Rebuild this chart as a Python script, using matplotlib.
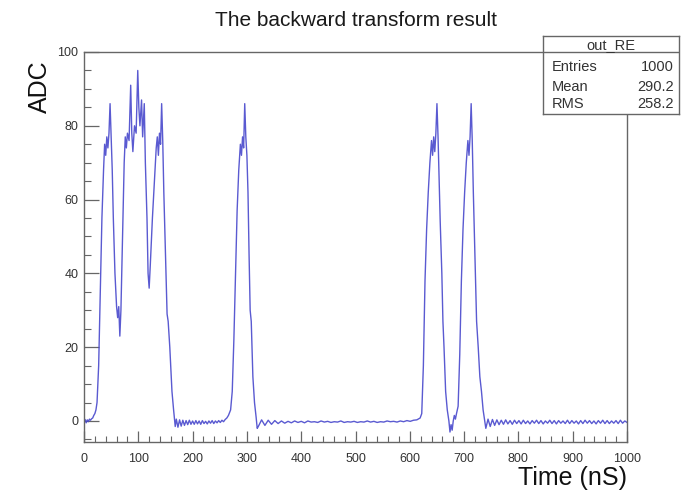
import numpy as np
import matplotlib
matplotlib.use("Agg")
import matplotlib.pyplot as plt
from matplotlib.ticker import MultipleLocator

plt.rcParams['font.family'] = ['Liberation Sans', 'DejaVu Sans']

# pedestal before the first pulse
t_start = [0, 2, 4, 6, 8, 10, 12, 14, 16, 18, 20]
adc_start = [-0.3, 0.4, -0.5, 0.3, -0.2, 0.5, 0.2, 0.6, 0.8, 1.5, 2.0]

# first cluster of overlapping pulses (20 - 168 ns)
t_cluster = [22, 24, 27, 30, 33, 36, 38, 40, 42, 44, 46, 48, 50, 52, 54, 57, 60,
             62, 64, 66, 68, 71, 74, 76, 78, 80, 83, 86, 88, 90, 93, 96, 99, 101,
             103, 106, 108, 111, 113, 116, 118, 120, 122, 126, 130, 133, 135, 137,
             139, 141, 143, 145, 147, 150, 153, 155, 158, 162, 165, 168]
adc_cluster = [3, 5, 15, 35, 55, 68, 75, 72, 77, 74, 78, 86, 77, 68, 55, 40, 31,
               28, 31, 23, 30, 50, 70, 77, 74, 78, 76, 91, 78, 73, 80, 78, 95, 85,
               80, 87, 77, 86, 70, 55, 40, 36, 42, 55, 66, 74, 77, 72, 78, 75, 86,
               76, 62, 45, 29, 27, 20, 8, 3, -1.5]

# ringing after the cluster
adc_ring_a = [0.5, -1.7, 0.3, -1.4, 0.2, -1.2, 0.1, -1.0, 0.2, -0.9, 0.0, -0.9,
              0.1, -0.8, 0.0, -0.9, 0.1, -0.7, -0.1, -0.8, 0.0, -0.6, 0.1, -0.7,
              0.0, -0.5, 0.1, -0.4, 0.2, -0.2, 0.4]

# single pulse near 300 ns
t_pulse_a = [263, 266, 270, 273, 276, 279, 282, 285, 288, 290, 292, 294, 296,
             298, 300, 302, 304, 306, 308, 311, 314, 317, 319]
adc_pulse_a = [0.8, 1.5, 3, 8, 22, 40, 57, 68, 75, 72, 77, 74, 86,
               77, 72, 62, 45, 30, 27, 12, 5, 1, -2]

# quiet stretch between pulses
adc_flat = [-1.5, 0.3, -1.2, 0.2, -0.9, 0.1, -0.7, 0.0, -0.6, -0.1, -0.5, 0.0,
            -0.4, -0.1, -0.5, 0.0, -0.3, -0.2, -0.4, 0.0, -0.3, -0.1, -0.4, -0.2,
            -0.3, 0.0, -0.4, -0.2, -0.3, -0.1, -0.4, -0.2, -0.3, 0.0, -0.3, -0.1,
            -0.4, -0.2, -0.3, 0.0, -0.2, -0.1, -0.3, 0.0, -0.2, 0.1, -0.1, 0.2,
            0.3, 0.8]

# double pulse at 650 / 710 ns
t_pulse_b = [622, 625, 628, 631, 634, 637, 640, 642, 644, 646, 648, 650, 652,
             654, 656, 659, 661, 663, 666, 669, 672, 674, 676, 678, 680, 682,
             684, 686, 689, 692, 695, 698, 701, 704, 707, 709, 711, 713, 715,
             717, 720, 723, 726, 729, 732, 735, 738]
adc_pulse_b = [2, 15, 38, 52, 62, 70, 76, 72, 77, 73, 78, 86, 77,
               65, 54, 40, 27, 20, 8, 3, 0, -3, -1, -2.5, 0, 1.5,
               0.5, 2, 4, 18, 38, 52, 62, 70, 76, 72, 77, 86, 76,
               62, 45, 27, 20, 12, 8, 3, 0]

# tail
adc_tail = [-2.0, 0.5, -1.5, 0.4, -1.2, 0.3, -1.0, 0.2, -0.9, 0.3, -0.8, 0.1,
            -0.9, 0.2, -0.7, 0.1, -0.8, 0.2, -0.7, 0.0, -0.8, 0.1, -0.6, 0.2,
            -0.7, 0.1, -0.8, 0.0, -0.6, 0.2, -0.7, 0.1, -0.8, 0.1, -0.6, 0.0,
            -0.7, 0.2, -0.7, 0.1, -0.6, 0.0, -0.8, 0.1, -0.7, 0.2, -0.6, 0.1,
            -0.7, 0.0, -0.8, 0.1, -0.6, 0.2, -0.7, 0.1, -0.7, 0.0, -0.6, 0.1,
            -0.7, 0.2, -0.6, 0.0, -0.4]

stats_labels = ["Entries", "Mean", "RMS"]
stats_values = ["1000", "290.2", "258.2"]

time_ns = np.concatenate([
    t_start,
    t_cluster,
    np.linspace(170, 260, len(adc_ring_a)),
    t_pulse_a,
    np.linspace(321, 619, len(adc_flat)),
    t_pulse_b,
    np.linspace(740, 1000, len(adc_tail)),
])
adc = np.concatenate([adc_start, adc_cluster, adc_ring_a, adc_pulse_a,
                      adc_flat, adc_pulse_b, adc_tail])

W, H = 681, 495
fig = plt.figure(figsize=(W / 100, H / 100), dpi=100)
ax = fig.add_axes([84 / W, 1 - 442 / H, 543 / W, 390 / H])

ax.plot(time_ns, adc, color='#4848cc', lw=1.0, alpha=0.9)
ax.set_xlim(0, 1000)
ax.set_ylim(-5.7, 100)

frame_col = '#666666'
for s in ax.spines.values():
    s.set_color(frame_col)
    s.set_linewidth(1.0)

ax.xaxis.set_major_locator(MultipleLocator(100))
ax.xaxis.set_minor_locator(MultipleLocator(20))
ax.yaxis.set_major_locator(MultipleLocator(20))
ax.yaxis.set_minor_locator(MultipleLocator(5))
ax.tick_params(axis='y', which='major', direction='in', length=11, width=0.9,
               color=frame_col, labelsize=9, pad=4, labelcolor='#333333')
ax.tick_params(axis='y', which='minor', direction='in', length=5, width=0.8,
               color=frame_col)
ax.tick_params(axis='x', which='major', direction='in', length=8, width=0.9,
               color=frame_col, labelsize=9, pad=8, labelcolor='#333333')
ax.tick_params(axis='x', which='minor', direction='in', length=4, width=0.8,
               color=frame_col)

fig.text(356 / W, 1 - 20 / H, "The backward transform result", ha='center',
         va='center', fontsize=15, color='#1a1a1a')
fig.text(627 / W, 1 - 478 / H, "Time (nS)", ha='right', va='center',
         fontsize=18, color='#111111')
fig.text(40 / W, 1 - 60 / H, "ADC", ha='center', va='top', rotation=90,
         fontsize=18, color='#111111')

# stats box
sb = fig.add_axes([543 / W, 1 - 114 / H, 136 / W, 78 / H])
sb.set_xlim(0, 1)
sb.set_ylim(0, 1)
sb.set_xticks([])
sb.set_yticks([])
sb.set_facecolor('white')
for s in sb.spines.values():
    s.set_color(frame_col)
    s.set_linewidth(1.0)
sb.axhline(0.795, color=frame_col, lw=1.0)
sb.text(0.5, 0.885, "out_RE", ha='center', va='center', fontsize=10.5,
        color='#333333')
for lab, val, y in zip(stats_labels, stats_values, [0.6, 0.345, 0.125]):
    sb.text(0.066, y, lab, ha='left', va='center', fontsize=10.5, color='#333333')
    sb.text(0.965, y, val, ha='right', va='center', fontsize=10.5, color='#333333')

fig.savefig("out.png", dpi=100)
